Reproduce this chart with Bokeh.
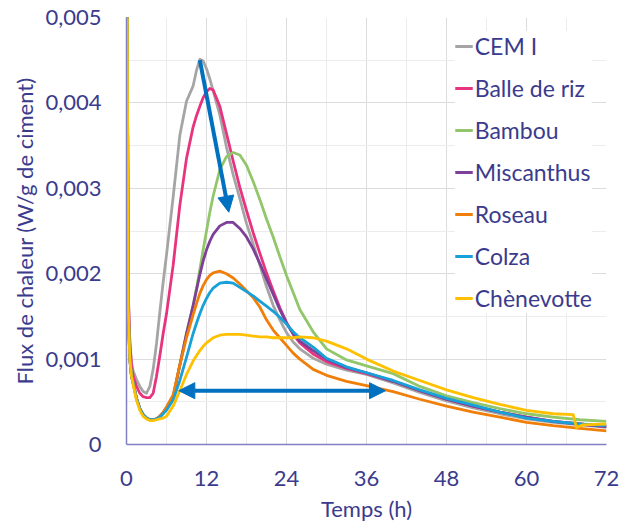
from bokeh.plotting import figure
from bokeh.models import (FixedTicker, CustomJSTickFormatter, Legend, LegendItem,
                          Arrow, NormalHead, Range1d)
from bokeh.embed import file_html
from bokeh.resources import INLINE

# ---------------- data ----------------
T = [0, 0.25, 0.5, 0.75, 1, 1.5, 2, 2.5, 3, 3.5, 4, 4.5, 5, 5.5, 6, 7, 8, 9, 10, 10.5,
     11, 11.5, 12, 12.5, 13, 14, 15, 16, 17, 18, 19, 20, 21, 22, 23, 24, 25, 26, 28, 30,
     33, 36, 40, 44, 48, 52, 56, 60, 64, 68, 72]

CEM_I = [0.0080, 0.0018, 0.0012, 0.00096, 0.00086, 0.00076, 0.00068, 0.00062, 0.0006, 0.00068,
         0.00088, 0.00118, 0.00155, 0.0019, 0.00222, 0.0029, 0.00362, 0.00402, 0.0042, 0.00438,
         0.00451, 0.00449, 0.0044, 0.00428, 0.00414, 0.00386, 0.00348, 0.00316, 0.00288, 0.00259,
         0.00235, 0.0021, 0.00185, 0.00163, 0.00146, 0.00131, 0.0012, 0.00112, 0.00101, 0.00094,
         0.00087, 0.00082, 0.00072, 0.00061, 0.00051, 0.00043, 0.00036, 0.0003, 0.00026, 0.00023,
         0.0002]

BALLE_DE_RIZ = [0.0080, 0.0018, 0.0012, 0.00092, 0.0008, 0.00068, 0.0006, 0.00056, 0.00055, 0.00055,
                0.0006, 0.0008, 0.00104, 0.0013, 0.00153, 0.0021, 0.0028, 0.00335, 0.00372, 0.00385,
                0.00396, 0.00406, 0.00413, 0.00417, 0.00415, 0.00396, 0.00364, 0.00332, 0.00301, 0.00274,
                0.00248, 0.00224, 0.00201, 0.0018, 0.0016, 0.00143, 0.00129, 0.00119, 0.00106, 0.00097,
                0.00089, 0.00083, 0.00074, 0.00063, 0.00053, 0.00045, 0.00038, 0.00032, 0.00027, 0.00024,
                0.00021]

BAMBOU = [0.0080, 0.0016, 0.001, 0.0008, 0.00072, 0.00054, 0.00042, 0.00035, 0.00031, 0.00029,
          0.00029, 0.0003, 0.00033, 0.00037, 0.00043, 0.00056, 0.00093, 0.0013, 0.00163, 0.00183,
          0.00205, 0.00228, 0.0025, 0.00272, 0.00291, 0.00322, 0.00337, 0.00342, 0.00339, 0.00327,
          0.00308, 0.00287, 0.00264, 0.00243, 0.0022, 0.00198, 0.00178, 0.00158, 0.00132, 0.00112,
          0.00099, 0.00092, 0.00083, 0.00068, 0.00057, 0.00049, 0.00042, 0.00036, 0.00032, 0.00029,
          0.00027]

MISCANTHUS = [0.0080, 0.0016, 0.001, 0.0008, 0.00072, 0.00054, 0.00042, 0.00035, 0.00031, 0.00029,
              0.00029, 0.0003, 0.00033, 0.00037, 0.00043, 0.00056, 0.00093, 0.0013, 0.00163, 0.00181,
              0.00199, 0.00215, 0.00228, 0.00238, 0.00246, 0.00256, 0.0026, 0.0026, 0.00253, 0.00243,
              0.00229, 0.00212, 0.00194, 0.00176, 0.00158, 0.00142, 0.0013, 0.00121, 0.0011, 0.001,
              0.0009, 0.00084, 0.00074, 0.00063, 0.00053, 0.00045, 0.00038, 0.00032, 0.00027, 0.00024,
              0.00021]

ROSEAU = [0.0080, 0.0016, 0.001, 0.0008, 0.00072, 0.00054, 0.00042, 0.00035, 0.00031, 0.00029,
          0.00029, 0.0003, 0.00033, 0.00038, 0.00044, 0.00058, 0.00093, 0.00125, 0.00152, 0.00165,
          0.00177, 0.00186, 0.00193, 0.00198, 0.00201, 0.00203, 0.002, 0.00195, 0.00188, 0.0018,
          0.00172, 0.00161, 0.00146, 0.00134, 0.00125, 0.00116, 0.00107, 0.001, 0.00088, 0.00081,
          0.00074, 0.00069, 0.00062, 0.00053, 0.00045, 0.00038, 0.00032, 0.00026, 0.00022, 0.00019,
          0.00016]

COLZA = [0.0080, 0.0016, 0.001, 0.0008, 0.00072, 0.00054, 0.00042, 0.00035, 0.00031, 0.00029,
         0.00029, 0.0003, 0.00032, 0.00036, 0.0004, 0.00052, 0.00075, 0.00102, 0.0013, 0.00142,
         0.00153, 0.00163, 0.00171, 0.00178, 0.00183, 0.00189, 0.0019, 0.00189, 0.00184, 0.00179,
         0.00174, 0.00168, 0.00162, 0.00156, 0.00149, 0.00141, 0.00132, 0.00125, 0.00114, 0.00101,
         0.00091, 0.00084, 0.00075, 0.00064, 0.00054, 0.00046, 0.00038, 0.00031, 0.00027, 0.00024,
         0.00022]

T_CHENEVOTTE = T[:-2] + [67, 67.5, 68.5, 72]
CHENEVOTTE = [0.0080, 0.0016, 0.001, 0.0008, 0.0007, 0.00052, 0.0004, 0.00033, 0.0003, 0.00028,
              0.00028, 0.00029, 0.0003, 0.00031, 0.00033, 0.00045, 0.00063, 0.00082, 0.00098, 0.00104,
              0.0011, 0.00115, 0.00119, 0.00122, 0.00125, 0.00128, 0.00129, 0.00129, 0.00129, 0.00128,
              0.00127, 0.00126, 0.00126, 0.00125, 0.00125, 0.00125, 0.00125, 0.00126, 0.00125, 0.00121,
              0.00112, 0.001, 0.00086, 0.00075, 0.00064, 0.00055, 0.00047, 0.0004, 0.00036,
              0.00035, 0.0002, 0.00023, 0.00024]

SERIES = [
    ("CEM I", T, CEM_I, "#A5A5A5"),
    ("Balle de riz", T, BALLE_DE_RIZ, "#E8347E"),
    ("Bambou", T, BAMBOU, "#92C66A"),
    ("Miscanthus", T, MISCANTHUS, "#7E3F98"),
    ("Roseau", T, ROSEAU, "#F07F0A"),
    ("Colza", T, COLZA, "#18A0D8"),
    ("Chènevotte", T_CHENEVOTTE, CHENEVOTTE, "#FFC000"),
]

X_TICKS = [0, 12, 24, 36, 48, 60, 72]
X_MINOR = [6, 18, 30, 42, 54, 66]
Y_TICKS = [0, 0.001, 0.002, 0.003, 0.004, 0.005]
Y_MINOR = [0.0005, 0.0015, 0.0025, 0.0035, 0.0045]

# annotation arrows (x_start, y_start, x_end, y_end)
ARROW_PEAK = (11.0, 0.0045, 15.35, 0.00272)
ARROW_SPAN = (7.85, 0.00063, 38.85, 0.00063)

TEXT = "#3B3B8E"
FONT = "Lato"

# ---------------- figure ----------------
p = figure(width=621, height=525, output_backend="svg", toolbar_location=None,
           x_range=Range1d(0, 72), y_range=Range1d(0, 0.005),
           min_border_left=126, min_border_right=15, min_border_top=17, min_border_bottom=81)
p.outline_line_color = None
p.background_fill_color = "white"
p.border_fill_color = "white"

items = []
for name, tt, vals, col in SERIES:
    r = p.line(tt, vals, line_color=col, line_width=2.8, line_join="round")
    items.append(LegendItem(label=name, renderers=[r]))

# axes
p.xaxis.ticker = FixedTicker(ticks=X_TICKS, minor_ticks=X_MINOR)
p.yaxis.ticker = FixedTicker(ticks=Y_TICKS, minor_ticks=Y_MINOR)
p.yaxis.formatter = CustomJSTickFormatter(
    code="return tick == 0 ? '0' : tick.toFixed(3).replace('.', ',');")
for ax in (p.xaxis[0], p.yaxis[0]):
    ax.axis_line_color = "#8080C4"
    ax.axis_line_width = 1.5
    ax.major_tick_line_color = None
    ax.minor_tick_line_color = None
    ax.major_label_text_font = FONT
    ax.major_label_text_font_size = "22px"
    ax.major_label_text_color = TEXT
    ax.axis_label_text_font = FONT
    ax.axis_label_text_font_size = "22px"
    ax.axis_label_text_color = TEXT
    ax.axis_label_text_font_style = "normal"
p.xaxis.axis_label = "Temps (h)"
p.yaxis.axis_label = "Flux de chaleur (W/g de ciment)"
p.xaxis.major_label_standoff = 20
p.xaxis.axis_label_standoff = 6
p.yaxis.major_label_standoff = 19
p.yaxis.axis_label_standoff = 4

# grids
for g in (p.xgrid[0], p.ygrid[0]):
    g.grid_line_color = "#DCDCDC"
    g.grid_line_width = 1
    g.minor_grid_line_color = "#ECECEC"
    g.minor_grid_line_width = 1

# arrows
blue = "#0070C0"
p.add_layout(Arrow(x_start=ARROW_PEAK[0], y_start=ARROW_PEAK[1], x_end=ARROW_PEAK[2], y_end=ARROW_PEAK[3],
                   line_color=blue, line_width=4,
                   end=NormalHead(size=16, fill_color=blue, line_color=blue, line_width=1)))
p.add_layout(Arrow(x_start=ARROW_SPAN[0], y_start=ARROW_SPAN[1], x_end=ARROW_SPAN[2], y_end=ARROW_SPAN[3],
                   line_color=blue, line_width=4,
                   start=NormalHead(size=16, fill_color=blue, line_color=blue, line_width=1),
                   end=NormalHead(size=16, fill_color=blue, line_color=blue, line_width=1)))

# legend
legend = Legend(items=items, location="top_right", margin=14, padding=10,
                background_fill_color="white", background_fill_alpha=1.0,
                border_line_color=None, glyph_width=18, glyph_height=30,
                label_height=30, spacing=12, label_standoff=2,
                label_text_font=FONT, label_text_font_size="23px", label_text_color=TEXT)
p.add_layout(legend)

open("out.html", "w").write(file_html(p, INLINE))
